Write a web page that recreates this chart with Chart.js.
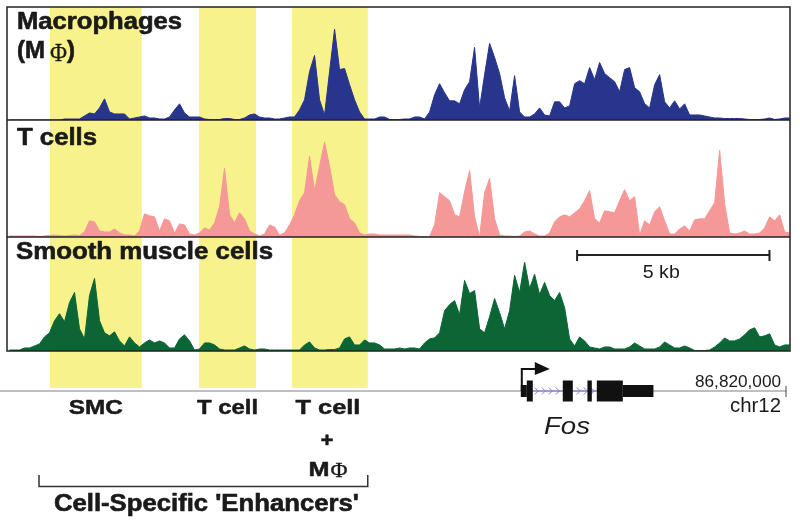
<!DOCTYPE html>
<html>
<head>
<meta charset="utf-8">
<script src="https://cdn.jsdelivr.net/npm/chart.js@4.4.0/dist/chart.umd.min.js"></script>
<style>
html,body{margin:0;padding:0;background:#fff;}
#c{display:block;}
</style>
</head>
<body>
<canvas id="c" width="800" height="526"></canvas>
<script>
// ---- genomic window (chr12, bp) ----
const X_MIN = 86799750;
const X_MAX = 86820104;
const BIN = 130;
const TICK_POS = 86820000;
const TICK_LABEL = '86,820,000';
const CHROM = 'chr12';

// ---- track names ----
const trackNames = ['Macrophages', 'T cells', 'Smooth muscle cells'];

// ---- signal values per 130 bp bin ----
const macrophage = [0,0,0,0,0,0,0,0,0,0,0,1,1,1,1,4,7,6,12,21,8,6,6,6,1,2,3,4,2,2,1,1,3,10,16,7,3,3,3,1,0.5,0.5,0.5,1.5,1.5,0.5,0.5,2,5,6,3,2,2,1,1,2,3,3,10,20,48,64,20,5,48,90,50,51,35,20,8,1,1,1,3,3,0.5,0.5,0.5,1,1,3,3,1,8,25,36,27,19,19,16,30,38,72,12,45,76,62,46,22,9,44,8,3,3,6,12,5,4,18,18,12,14,36,39,36,52,40,57,46,42,38,28,50,52,32,28,16,12,35,45,18,12,19,11,16,5,5,5,4,3,2,2,1.5,1.5,1.5,1.5,1,0.5,0.5,0.5,1,2,0.5,1,2,2];
const tcell = [1,1,1,1,1,1,0.5,1,1.5,2,1.5,1,1.5,2,1.5,5,16,15,6,5,5,8,4,2,2,1,6,23,21,20,6,18,16,4,13,12,3,2,4,9,7,14,30,68,22,14,24,18,6,3,1,3,12,10,2,4,12,22,36,44,80,46,70,94,70,42,35,32,18,14,4,2,3,3,2,2,2,2,2,2,2,1,0.5,0.5,0.5,12,44,40,36,22,20,45,66,20,0,44,58,18,2,1,1,0.5,1,5,6,3,1,1,4,15,20,22,20,24,28,36,46,18,14,26,25,24,36,47,36,40,2,16,12,25,30,16,3,3,8,11,6,17,18,18,26,34,86,33,4,3,4,6,3,3,4,9,20,16,22,5,4];
const smc = [1,1,1,3,3,5,7,14,18,30,37,29,48,58,22,12,55,72,30,18,15,19,10,5,14,8,4,8,11,8,10,8,3,3,12,16,10,1,2,8,8,6,2,1,1,1,3,5,2,1,2,2,1,1,1,1,1,1,1,6,9,3,1,1,1.5,1.5,3,12,14,6,6,11,8,8,6,2,2,2,3,2,3,3,2,8,12,13,18,40,46,50,36,70,57,60,22,18,34,52,38,22,40,75,58,88,62,76,56,68,55,50,58,43,12,5,14,10,4,3,2,4,4,2,2,2,4,8,5,2,2,2,4,9,6,3,3,5,3,0.5,0.5,0.5,1,4,8,13,10,10,12,16,21,23,14,15,17,6,4,6,6];

// ---- highlighted enhancer regions (bp) and their labels ----
const enhancerStarts = [86800868, 86804742, 86807160];
const enhancerEnds   = [86803252, 86806224, 86809128];
const enhancerLabels = ['SMC', 'T cell', 'T cell'];

// ---- Fos gene model (bp) ----
const geneName = 'Fos';
const tss = 86813106;
const exonStarts = [86813106, 86813262, 86814198, 86814838, 86815082, 86815758];
const exonEnds   = [86813262, 86813418, 86814458, 86814952, 86815758, 86816554];
const exonThick  = [false, true, true, true, true, false];
const intronStart = 86813418;
const intronEnd = 86815082;

// ---- scale bar ----
const scaleBarStart = 86814570;
const scaleBarLen = 5000;
const scaleBarLabel = '5 kb';

const colors = ['#27358c', '#f59898', '#0b6534'];
const YELLOW = '#f8f28c';

function toXY(arr){ return arr.map((v,i)=>({x: X_MIN + BIN*(i+0.5), y: v})); }

function txt(ctx, s, x, y, font, align, w, bold){
  ctx.save();
  ctx.font = font;
  ctx.fillStyle = '#1a1a1a';
  ctx.strokeStyle = '#1a1a1a';
  const m = ctx.measureText(s).width;
  const ww = w || m;
  const k = ww / m;
  let x0 = x;
  if (align === 'center') x0 = x - ww/2;
  else if (align === 'right') x0 = x - ww;
  ctx.translate(x0, y);
  ctx.scale(k, 1);
  ctx.textAlign = 'left';
  ctx.textBaseline = 'alphabetic';
  ctx.fillText(s, 0, 0);
  if (bold) { ctx.lineWidth = bold; ctx.lineJoin = 'round'; ctx.strokeText(s, 0, 0); }
  ctx.restore();
}

const decor = {
  id: 'decor',
  beforeDatasetsDraw(chart){
    const ctx = chart.ctx, xs = chart.scales.x, a = chart.chartArea;
    ctx.save();
    ctx.fillStyle = YELLOW;
    for (let i=0;i<enhancerStarts.length;i++){
      const x0 = xs.getPixelForValue(enhancerStarts[i]);
      const x1 = xs.getPixelForValue(enhancerEnds[i]);
      ctx.fillRect(x0, a.top, x1-x0, 388 - a.top);
    }
    ctx.restore();
  },
  afterDraw(chart){
    const ctx = chart.ctx, xs = chart.scales.x, a = chart.chartArea;
    const ys = [chart.scales.y1, chart.scales.y2, chart.scales.y3];
    ctx.save();
    ctx.strokeStyle = '#222';
    ctx.lineWidth = 1.5;
    ctx.strokeRect(a.left, a.top, a.right - a.left, a.bottom - a.top);
    ctx.beginPath();
    ctx.moveTo(a.left, ys[0].bottom); ctx.lineTo(a.right, ys[0].bottom);
    ctx.moveTo(a.left, ys[1].bottom); ctx.lineTo(a.right, ys[1].bottom);
    ctx.stroke();
    ctx.restore();

    // track labels
    const B = 'bold 23px "Liberation Sans", Arial, sans-serif';
    txt(ctx, trackNames[0], 17, ys[0].top + 21.5, B, 'left', 165, 0.6);
    txt(ctx, '(M', 17, ys[0].top + 51, B, 'left', 28, 0.6);
    txt(ctx, '\u03A6', 50, ys[0].top + 54, '25px "Liberation Serif", "DejaVu Serif", serif', 'left', 17, 0.3);
    txt(ctx, ')', 67, ys[0].top + 51, B, 'left', 8, 0.6);
    txt(ctx, trackNames[1], 17, ys[1].top + 25, B, 'left', 80, 0.6);
    txt(ctx, trackNames[2], 16, ys[2].top + 22, B, 'left', 257, 0.6);

    // scale bar
    const sb0 = xs.getPixelForValue(scaleBarStart), sb1 = xs.getPixelForValue(scaleBarStart + scaleBarLen);
    const sby = 255;
    ctx.save();
    ctx.strokeStyle = '#222'; ctx.lineWidth = 2;
    ctx.beginPath();
    ctx.moveTo(sb0, sby); ctx.lineTo(sb1, sby);
    ctx.moveTo(sb0, sby-5); ctx.lineTo(sb0, sby+6);
    ctx.moveTo(sb1, sby-5); ctx.lineTo(sb1, sby+6);
    ctx.stroke();
    ctx.restore();
    txt(ctx, scaleBarLabel, (sb0+sb1)/2 - 12, 278, '18px "Liberation Sans", Arial, sans-serif', 'center', 37);

    // genome line
    const gy = 391;
    const tickX = xs.getPixelForValue(TICK_POS);
    ctx.save();
    ctx.strokeStyle = '#aaa'; ctx.lineWidth = 1.3;
    ctx.beginPath(); ctx.moveTo(0, gy); ctx.lineTo(tickX, gy); ctx.stroke();
    ctx.strokeStyle = '#444'; ctx.lineWidth = 1;
    ctx.beginPath(); ctx.moveTo(tickX, 386); ctx.lineTo(tickX, 397); ctx.stroke();
    ctx.restore();
    txt(ctx, TICK_LABEL, 781, 387, '16px "Liberation Sans", Arial, sans-serif', 'right', 86);
    txt(ctx, CHROM, 781, 412, '20px "Liberation Sans", Arial, sans-serif', 'right', 51);

    // intron with chevrons
    const i0 = xs.getPixelForValue(intronStart), i1 = xs.getPixelForValue(intronEnd);
    ctx.save();
    ctx.strokeStyle = '#8080d8'; ctx.lineWidth = 1;
    ctx.beginPath(); ctx.moveTo(i0, gy); ctx.lineTo(i1, gy); ctx.stroke();
    ctx.beginPath();
    for (let cx = i0 + 4; cx < i1 - 2; cx += 7){
      ctx.moveTo(cx-2, gy-3.5); ctx.lineTo(cx+1.5, gy); ctx.lineTo(cx-2, gy+3.5);
    }
    ctx.stroke();
    ctx.restore();

    // exons
    ctx.save();
    ctx.fillStyle = '#111';
    for (let i=0;i<exonStarts.length;i++){
      const e0 = xs.getPixelForValue(exonStarts[i]), e1 = xs.getPixelForValue(exonEnds[i]);
      const h = exonThick[i] ? 21 : 12;
      ctx.fillRect(e0, gy - h/2, e1 - e0, h);
    }
    const tx = xs.getPixelForValue(tss) + 1;
    ctx.strokeStyle = '#111'; ctx.lineWidth = 2;
    ctx.beginPath();
    ctx.moveTo(tx, gy); ctx.lineTo(tx, 369); ctx.lineTo(tx + 16, 369);
    ctx.stroke();
    ctx.beginPath();
    ctx.moveTo(tx + 13, 362); ctx.lineTo(tx + 28, 369); ctx.lineTo(tx + 13, 375); ctx.closePath();
    ctx.fill();
    ctx.restore();
    txt(ctx, geneName, 567, 434, 'italic 24px "Liberation Sans", Arial, sans-serif', 'center', 46);

    // enhancer labels
    const LB = 'bold 21px "Liberation Sans", Arial, sans-serif';
    const lw = [54, 61, 65];
    const lc = [0,0,0].map((_,i)=> (xs.getPixelForValue(enhancerStarts[i]) + xs.getPixelForValue(enhancerEnds[i]))/2);
    lc[2] -= 2;
    for (let i=0;i<enhancerLabels.length;i++){
      txt(ctx, enhancerLabels[i], lc[i], 414, LB, 'center', lw[i], 0.5);
    }
    txt(ctx, '+', lc[2] - 1, 447, LB, 'center', 13, 0.5);
    txt(ctx, 'M', lc[2] - 9, 476, LB, 'center', 21, 0.5);
    txt(ctx, '\u03A6', lc[2] + 11, 477, '22px "Liberation Serif", "DejaVu Serif", serif', 'center', 17, 0.3);

    // bracket
    const bl = xs.getPixelForValue(enhancerStarts[0]) - 11, br = xs.getPixelForValue(enhancerEnds[2]);
    ctx.save();
    ctx.strokeStyle = '#333'; ctx.lineWidth = 1.5;
    ctx.beginPath();
    ctx.moveTo(bl, 475); ctx.lineTo(bl, 486.5); ctx.lineTo(br, 486.5); ctx.lineTo(br, 475);
    ctx.stroke();
    ctx.restore();
    txt(ctx, "Cell-Specific 'Enhancers'", (bl+br)/2 + 3, 511, 'bold 23px "Liberation Sans", Arial, sans-serif', 'center', 305, 0.6);
  }
};

function yAxis(weight, max){
  return {
    type: 'linear', position: 'left', stack: 'tracks', stackWeight: weight,
    min: 0, max: max, offset: false, display: true,
    ticks: {display: false}, grid: {display: false, drawTicks: false}, border: {display: false}
  };
}

// scales listed bottom track first: Chart.js places stacked left axes from the bottom up
const scales = {x: {type: 'linear', min: X_MIN, max: X_MAX, display: false}};
scales.y3 = yAxis(114, 113);
scales.y2 = yAxis(117, 116);
scales.y1 = yAxis(113, 112);

new Chart(document.getElementById('c'), {
  type: 'line',
  data: {
    datasets: [
      {label: trackNames[0], data: toXY(macrophage), yAxisID: 'y1', borderColor: colors[0], backgroundColor: colors[0], fill: 'origin'},
      {label: trackNames[1], data: toXY(tcell), yAxisID: 'y2', borderColor: colors[1], backgroundColor: colors[1], fill: 'origin'},
      {label: trackNames[2], data: toXY(smc), yAxisID: 'y3', borderColor: colors[2], backgroundColor: colors[2], fill: 'origin'}
    ]
  },
  options: {
    responsive: false,
    animation: false,
    devicePixelRatio: 1,
    layout: {padding: {left: 7, right: 10, top: 7, bottom: 175}},
    elements: {point: {radius: 0}, line: {borderWidth: 1, tension: 0}},
    plugins: {legend: {display: false}, tooltip: {enabled: false}},
    scales: scales
  },
  plugins: [decor]
});
</script>
</body>
</html>
